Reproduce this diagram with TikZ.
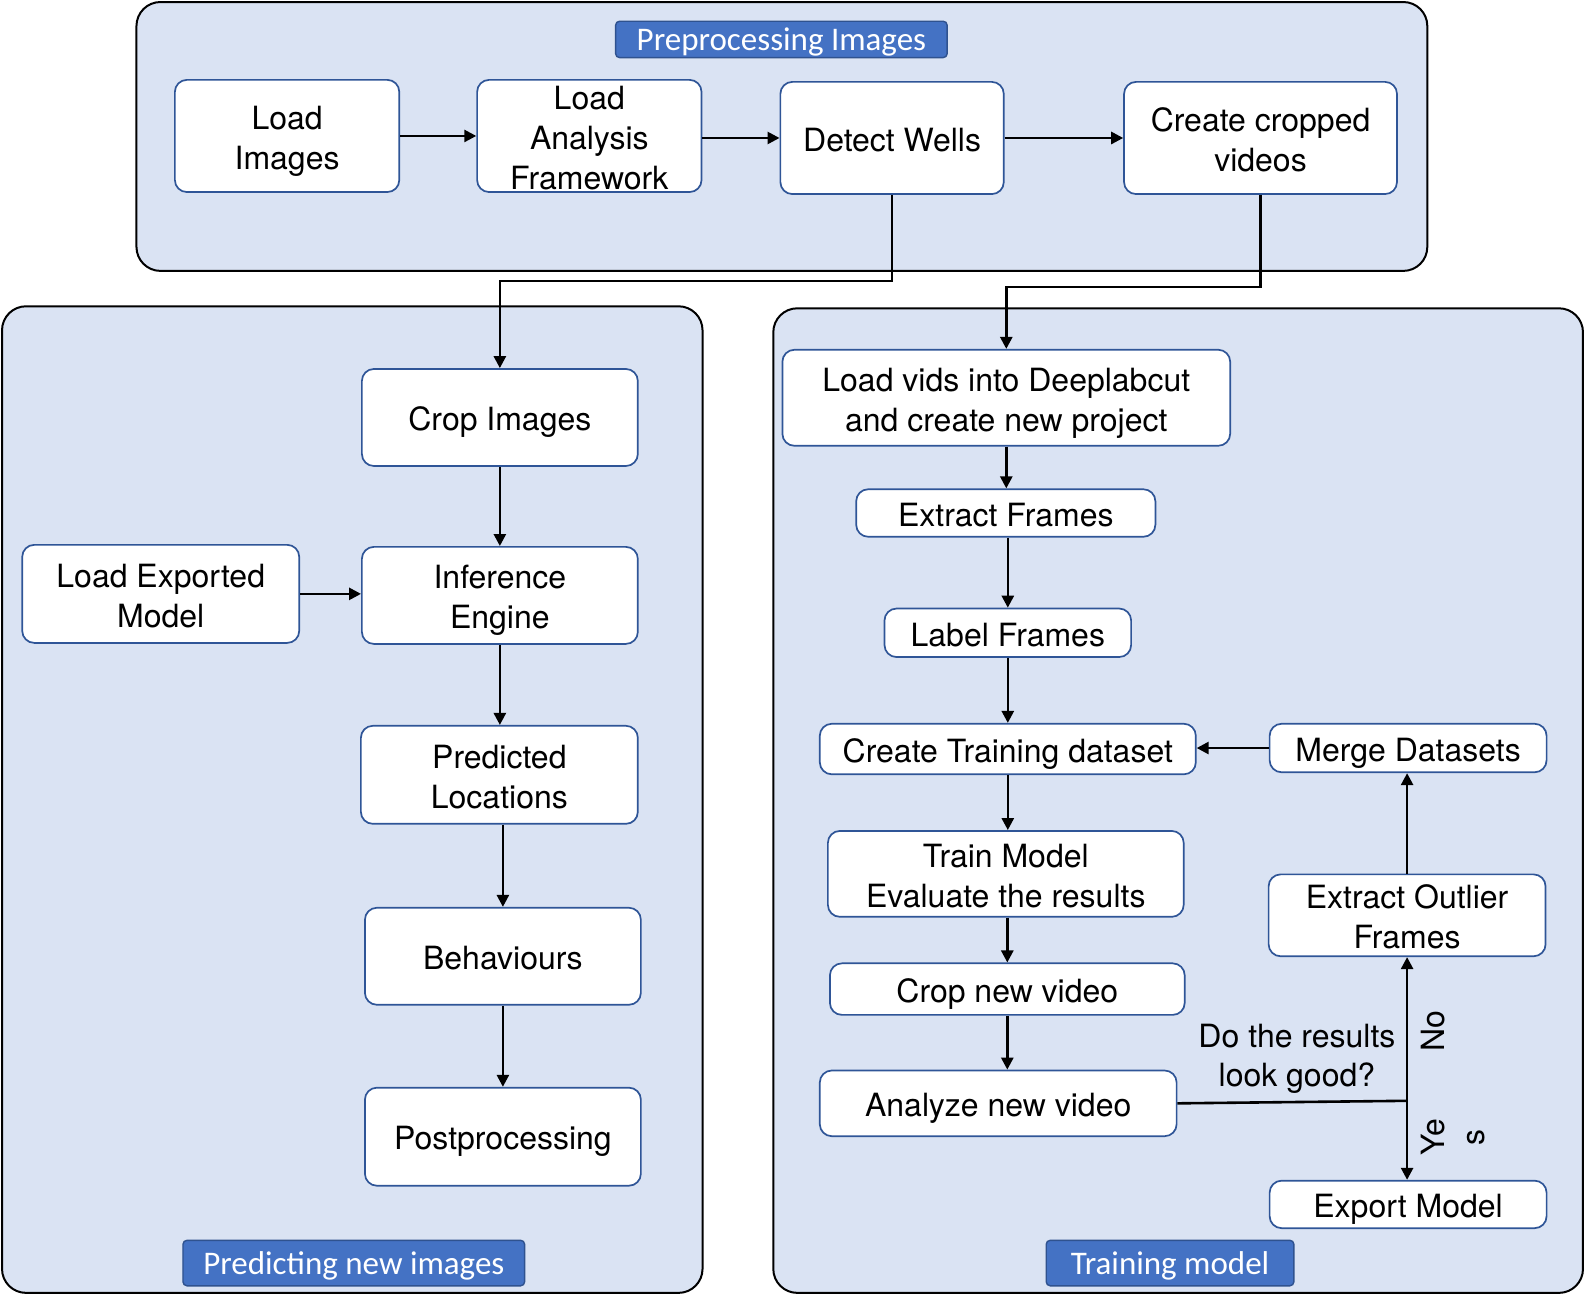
\documentclass[tikz,border=0pt]{standalone}
\usepackage{fontspec}
\setmainfont{TeX Gyre Heros}
\newfontfamily\lblfont{Carlito}
\usetikzlibrary{arrows.meta}
\definecolor{contfill}{HTML}{DAE3F3}
\definecolor{boxblue}{HTML}{2F5597}
\definecolor{lblfill}{HTML}{4472C4}
\definecolor{lbldraw}{HTML}{2F528F}
\tikzset{
  container/.style={draw=black, fill=contfill, line width=2pt, rounded corners=24pt, inner sep=0pt},
  stepbox/.style={draw=boxblue, fill=white, line width=1.7pt, rounded corners=12pt, inner sep=0pt,
    font=\fontsize{32}{40}\selectfont},
  lbl/.style={draw=lbldraw, fill=lblfill, line width=1.4pt, rounded corners=4pt, inner sep=0pt, text=white,
    text height=26pt, text depth=3pt, font=\lblfont\fontsize{33}{36}\selectfont},
  arr/.style={line width=2.6pt, -{Triangle[length=12pt,width=12pt]}},
  ln/.style={line width=2.6pt},
  txt/.style={font=\fontsize{32}{39}\selectfont, align=center, inner sep=0pt}
}
\newcommand\mkbox[7]{%
  \pgfmathsetmacro\mybw{(#4-#2)*1.011}%
  \pgfmathsetmacro\mybh{(#5-#3)*1.011}%
  \node[#1, minimum width=\mybw pt, minimum height=\mybh pt] (#6) at ({(#2+#4)/2},{(#3+#5)/2}) {#7};}
\newcommand\stk[1]{\raisebox{-11.5pt}[0pt][0pt]{\begin{tabular}{@{}c@{}}#1\end{tabular}}}
\begin{document}
\begin{tikzpicture}[x=1.011pt,y=-1.011pt]
\useasboundingbox (0,0) rectangle (1568,1290);
% containers
\mkbox{container}{135}{2}{1412}{268}{top}{}
\mkbox{container}{2}{303}{695}{1279}{left}{}
\mkbox{container}{765}{305}{1566}{1279}{right}{}
% labels
\mkbox{lbl}{609}{21}{937}{57}{lpre}{Preprocessing Images}
\mkbox{lbl}{181}{1227}{519}{1272}{lpred}{Predicting new images}
\mkbox{lbl}{1035}{1227}{1280}{1272}{ltrain}{Training model}
% top row
\mkbox{stepbox}{173}{79}{395}{190}{li}{\stk{Load\\Images}}
\mkbox{stepbox}{472}{79}{694}{190}{laf}{\stk{Load\\Analysis\\Framework}}
\mkbox{stepbox}{772}{81}{993}{192}{dw}{\stk{Detect Wells}}
\mkbox{stepbox}{1112}{81}{1382}{192}{ccv}{\stk{Create cropped\\videos}}
% left column
\mkbox{stepbox}{358}{365}{631}{461}{ci}{\stk{Crop Images}}
\mkbox{stepbox}{358}{541}{631}{637}{ie}{\stk{Inference\\Engine}}
\mkbox{stepbox}{22}{539}{296}{636}{lem}{\stk{Load Exported\\Model}}
\mkbox{stepbox}{357}{718}{631}{815}{pl}{\stk{Predicted\\Locations}}
\mkbox{stepbox}{361}{898}{634}{994}{beh}{\stk{Behaviours}}
\mkbox{stepbox}{361}{1076}{634}{1173}{post}{\stk{Postprocessing}}
% right column
\mkbox{stepbox}{774}{346}{1217}{441}{lv}{\stk{Load vids into Deeplabcut\\and create new project}}
\mkbox{stepbox}{847}{484}{1143}{531}{ef}{\stk{Extract Frames}}
\mkbox{stepbox}{875}{602}{1119}{650}{lf}{\stk{Label Frames}}
\mkbox{stepbox}{811}{716}{1183}{766}{ctd}{\stk{Create Training dataset}}
\mkbox{stepbox}{1256}{716}{1530}{764}{md}{\stk{Merge Datasets}}
\mkbox{stepbox}{819}{822}{1171}{907}{tm}{\stk{Train Model\\Evaluate the results}}
\mkbox{stepbox}{1255}{865}{1529}{946}{eof}{\stk{Extract Outlier\\Frames}}
\mkbox{stepbox}{821}{953}{1172}{1004}{cnv}{\stk{Crop new video}}
\mkbox{stepbox}{811}{1059}{1164}{1124}{anv}{\stk{Analyze new video}}
\mkbox{stepbox}{1256}{1168}{1530}{1215}{em}{\stk{Export Model}}
% texts
\node[txt] (q) at (1283,1047) {Do the results\\look good?};
\node[txt, rotate=90] (no) at (1418,1020) {No};
\node[txt, rotate=90] (ye) at (1418,1125) {Ye};
\node[txt, rotate=90] (s) at (1460,1125) {s};
% top connectors
\draw[arr] (li.east) -- (laf.west);
\draw[arr] (laf.east |- dw.west) -- (dw.west);
\draw[arr] (dw.east) -- (ccv.west);
\draw[arr] (dw.south) -- (dw.south |- 0,278) -| (ci.north);
\draw[arr] (ccv.south) -- (ccv.south |- 0,284) -| (lv.north);
% left connectors
\draw[arr] (ci.south) -- (ie.north);
\draw[arr] (lem.east) -- (lem.east -| ie.west);
\draw[arr] (ie.south) -- (ie.south |- pl.north);
\draw[arr] (beh.north |- pl.south) -- (beh.north);
\draw[arr] (beh.south) -- (post.north);
% right connectors
\draw[arr] (lv.south) -- (lv.south |- ef.north);
\draw[arr] (lf.north |- ef.south) -- (lf.north);
\draw[arr] (lf.south) -- (lf.south |- ctd.north);
\draw[arr] (md.west) -- (md.west -| ctd.east);
\draw[arr] (ctd.south) -- (ctd.south |- tm.north);
\draw[arr] (cnv.north |- tm.south) -- (cnv.north);
\draw[arr] (cnv.south) -- (cnv.south |- anv.north);
\coordinate (j) at (1392,1089);
\draw[ln] (anv.east) -- (j);
\draw[arr] (j) -- (j |- eof.south);
\draw[arr] (j) -- (j |- em.north);
\draw[arr] (eof.north) -- (eof.north |- md.south);
\end{tikzpicture}
\end{document}
